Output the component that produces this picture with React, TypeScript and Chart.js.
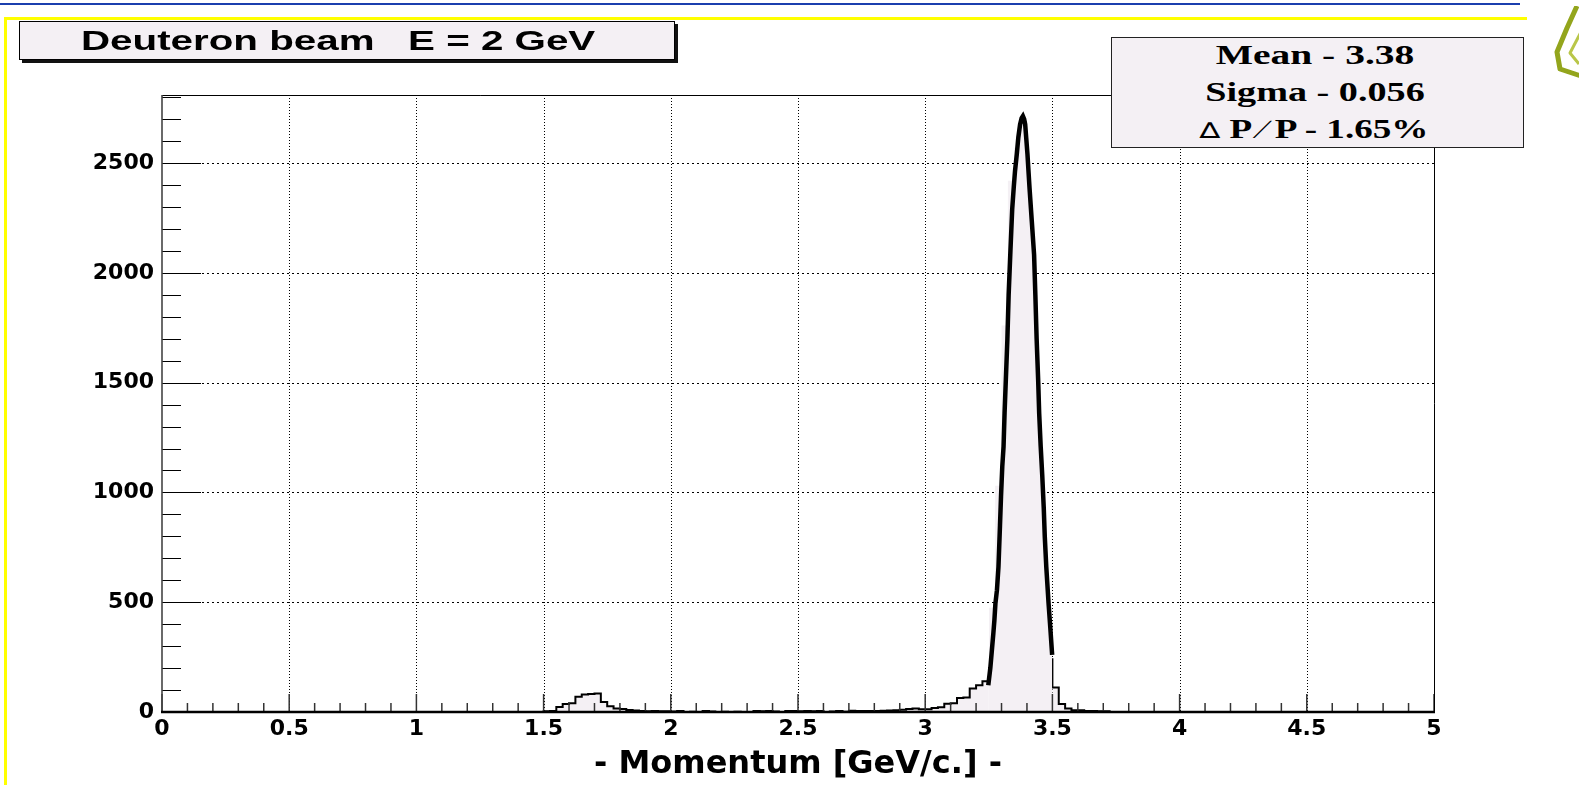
import React, { useEffect, useRef } from "react";
import { Chart, registerables } from "chart.js";

Chart.register(...registerables);

// Momentum histogram (GeV/c): first bin edge, bin width and entries per bin
const histFirstEdge = 1.5;
const histBinWidth = 0.025;
const histCounts = [
  2, 3, 4, 23, 37, 40, 70, 80, 82, 84, // 1.500 - 1.725
  46, 26, 16, 14, 9, 7, 4, 3, 4, 3, // 1.750 - 1.975
  3, 2, 4, 0, 1, 0, 4, 2, 0, 1, // 2.000 - 2.225
  0, 1, 0, 0, 4, 3, 4, 2, 0, 4, // 2.250 - 2.475
  4, 3, 4, 3, 4, 0, 2, 4, 1, 6, // 2.500 - 2.725
  4, 4, 4, 5, 6, 7, 8, 10, 14, 16, // 2.750 - 2.975
  13, 13, 18, 22, 38, 40, 64, 66, 107, 122, // 3.000 - 3.225
  140, 475, 1030, 1760, 2420, 2570, 2140, 1310, 680, 250, // 3.250 - 3.475
  245, 112, 36, 16, 8, 8, 4, 4, 3, 3, // 3.500 - 3.725
];

// Peak outline traced over the main peak (drawn thick, replaces the bin outline there)
const peakMomentum = [
  3.248, 3.256, 3.262, 3.268, 3.272, 3.276, 3.282, 3.288, 3.294, 3.298,
  3.303, 3.308, 3.312, 3.317, 3.323, 3.328, 3.335, 3.342, 3.348, 3.353,
  3.36, 3.366, 3.373, 3.379, 3.384, 3.389, 3.393, 3.397, 3.402, 3.406,
  3.41, 3.419, 3.428, 3.433, 3.438, 3.444, 3.448, 3.454, 3.46, 3.466,
  3.47, 3.476, 3.485, 3.492, 3.499,
];
const peakCounts = [
  122, 200, 280, 360, 418, 494, 555, 661, 850, 981,
  1118, 1209, 1361, 1514, 1696, 1900, 2100, 2290, 2388, 2463,
  2540, 2616, 2676, 2705, 2714, 2700, 2676, 2616, 2540, 2463,
  2388, 2235, 2083, 1900, 1700, 1514, 1361, 1209, 1080, 930,
  800, 660, 494, 380, 260,
];
const peakRange = [3.25, 3.5];

// Axes
const xRange = [0, 5];
const yRange = [0, 2810];
const xTickValues = [0, 0.5, 1, 1.5, 2, 2.5, 3, 3.5, 4, 4.5, 5];
const xTickLabels = ["0", "0.5", "1", "1.5", "2", "2.5", "3", "3.5", "4", "4.5", "5"];
const yTickValues = [0, 500, 1000, 1500, 2000, 2500];
const yTickLabels = ["0", "500", "1000", "1500", "2000", "2500"];
const xMinorStep = 0.1;
const yMinorStep = 100;

const titleText = "Deuteron beam   E = 2 GeV";
const axisTitle = "- Momentum [GeV/c.] -";
const statMean = "Mean - 3.38";
const statSigma = "Sigma - 0.056";
const statResolution = "1.65%";

const FILL = "rgb(244,240,244)";
const SERIF = '"Liberation Serif", "Times New Roman", serif';
const SANS = '"Liberation Sans", Arial, sans-serif';
const DEJAVU = '"DejaVu Sans", sans-serif';

const PLOT = { left: 162, top: 95, right: 1434, bottom: 712 };
const W = 1579;
const H = 785;

// ROOT-style frame: dotted grid under the histogram, ticks and frame over it
const frameAndGrid = {
  id: "frameAndGrid",
  beforeDatasetsDraw(chart: any) {
    const { ctx, chartArea: a, scales } = chart;
    const xs = scales.x;
    const ys = scales.y;
    ctx.save();
    ctx.strokeStyle = "#000";
    ctx.lineWidth = 1;
    ctx.setLineDash([1, 2]);
    xTickValues.slice(1, -1).forEach((v) => {
      const px = Math.round(xs.getPixelForValue(v)) + 0.5;
      ctx.beginPath();
      ctx.moveTo(px, a.top);
      ctx.lineTo(px, a.bottom);
      ctx.stroke();
    });
    ctx.setLineDash([2, 3]);
    yTickValues.slice(1).forEach((v) => {
      const py = Math.round(ys.getPixelForValue(v)) + 0.5;
      ctx.beginPath();
      ctx.moveTo(a.left, py);
      ctx.lineTo(a.right, py);
      ctx.stroke();
    });
    ctx.restore();
  },
  afterDatasetsDraw(chart: any) {
    const { ctx, chartArea: a, scales } = chart;
    const xs = scales.x;
    const ys = scales.y;
    ctx.save();
    ctx.setLineDash([]);
    // x ticks
    ctx.strokeStyle = "#333";
    ctx.lineWidth = 1.5;
    const nx = Math.round((xRange[1] - xRange[0]) / xMinorStep);
    for (let i = 0; i <= nx; i++) {
      const v = xRange[0] + i * xMinorStep;
      const major = i % 5 === 0;
      const px = xs.getPixelForValue(v);
      ctx.beginPath();
      ctx.moveTo(px, a.bottom);
      ctx.lineTo(px, a.bottom - (major ? 18 : 9));
      ctx.stroke();
    }
    // y ticks
    ctx.strokeStyle = "#000";
    ctx.lineWidth = 1;
    const ny = Math.floor((yRange[1] - yRange[0]) / yMinorStep);
    for (let i = 0; i <= ny; i++) {
      const v = yRange[0] + i * yMinorStep;
      const major = i % 5 === 0;
      const py = Math.round(ys.getPixelForValue(v)) + 0.5;
      ctx.beginPath();
      ctx.moveTo(a.left, py);
      ctx.lineTo(a.left + (major ? 39 : 19), py);
      ctx.stroke();
    }
    // frame
    ctx.strokeStyle = "#000";
    ctx.lineWidth = 1;
    ctx.beginPath();
    ctx.moveTo(a.left, a.top + 0.5);
    ctx.lineTo(a.right + 0.5, a.top + 0.5);
    ctx.lineTo(a.right + 0.5, a.bottom);
    ctx.stroke();
    ctx.strokeStyle = "#444";
    ctx.lineWidth = 1.6;
    ctx.beginPath();
    ctx.moveTo(a.left, a.top);
    ctx.lineTo(a.left, a.bottom);
    ctx.stroke();
    ctx.strokeStyle = "#000";
    ctx.lineWidth = 2.5;
    ctx.beginPath();
    ctx.moveTo(a.left - 1, a.bottom);
    ctx.lineTo(a.right + 1, a.bottom);
    ctx.stroke();
    ctx.restore();
  },
};

function TextLine(props: {
  x: number;
  baseline: number;
  size: number;
  family: string;
  scaleX: number;
  center?: boolean;
  children: React.ReactNode;
}) {
  const { x, baseline, size, family, scaleX, center, children } = props;
  return (
    <div
      style={{
        position: "absolute",
        left: x,
        top: baseline - 0.84 * size,
        fontFamily: family,
        fontWeight: "bold",
        fontSize: size,
        lineHeight: `${size}px`,
        whiteSpace: "pre",
        color: "#000",
        transform: center ? `translateX(-50%) scaleX(${scaleX})` : `scaleX(${scaleX})`,
        transformOrigin: center ? "50% 50%" : "0 50%",
      }}
    >
      {children}
    </div>
  );
}

export default function App() {
  const canvasRef = useRef<HTMLCanvasElement>(null);

  useEffect(() => {
    const canvas = canvasRef.current;
    if (!canvas) return;
    const histPoints = histCounts.map((c, i) => ({
      x: Number((histFirstEdge + i * histBinWidth).toFixed(4)),
      y: c,
    }));
    histPoints.push({
      x: Number((histFirstEdge + histCounts.length * histBinWidth).toFixed(4)),
      y: 0,
    });
    const peakPoints = peakMomentum.map((m, i) => ({ x: m, y: peakCounts[i] }));

    const tickFont = { family: "DejaVu Sans", weight: "bold" as const, size: 22 };

    const chart = new Chart(canvas, {
      type: "line",
      data: {
        datasets: [
          {
            data: peakPoints,
            borderColor: "#000",
            borderWidth: 4.5,
            pointRadius: 0,
            backgroundColor: FILL,
            fill: "origin",
            tension: 0,
          },
          {
            data: histPoints,
            stepped: "after",
            borderColor: "#000",
            borderWidth: 2,
            backgroundColor: FILL,
            fill: "origin",
            pointRadius: 0,
            segment: {
              borderColor: (c: any) =>
                c.p0.parsed.x >= peakRange[0] - 1e-6 && c.p0.parsed.x < peakRange[1] - 1e-6
                  ? "rgba(0,0,0,0)"
                  : "#000",
            },
          },
        ],
      },
      options: {
        responsive: false,
        animation: false,
        events: [],
        layout: {
          padding: { left: 0, top: PLOT.top, right: W - PLOT.right, bottom: 0 },
        },
        plugins: { legend: { display: false }, tooltip: { enabled: false } },
        scales: {
          x: {
            type: "linear",
            min: xRange[0],
            max: xRange[1],
            grid: { display: false, drawTicks: false },
            border: { display: false },
            afterBuildTicks: (s: any) => {
              s.ticks = xTickValues.map((v) => ({ value: v }));
            },
            ticks: {
              autoSkip: false,
              maxRotation: 0,
              padding: 4,
              color: "#000",
              font: tickFont,
              callback: (_v: any, i: number) => xTickLabels[i],
            },
            title: {
              display: true,
              text: axisTitle,
              color: "#000",
              font: { family: "DejaVu Sans", weight: "bold", size: 32 },
              padding: { top: 0, bottom: 1 },
            },
            afterFit: (s: any) => {
              s.height = H - PLOT.bottom;
            },
          },
          y: {
            type: "linear",
            min: yRange[0],
            max: yRange[1],
            grid: { display: false, drawTicks: false },
            border: { display: false },
            afterBuildTicks: (s: any) => {
              s.ticks = yTickValues.map((v) => ({ value: v }));
            },
            ticks: {
              padding: 8,
              color: "#000",
              font: tickFont,
              callback: (_v: any, i: number) => yTickLabels[i],
            },
            afterFit: (s: any) => {
              s.width = PLOT.left;
            },
          },
        },
      },
      plugins: [frameAndGrid],
    } as any);

    return () => chart.destroy();
  }, []);

  return (
    <div
      style={{
        position: "fixed",
        left: 0,
        top: 0,
        width: W,
        height: H,
        background: "#fff",
        overflow: "hidden",
      }}
    >
      <canvas
        ref={canvasRef}
        width={W}
        height={H}
        style={{ position: "absolute", left: 0, top: 0, width: W, height: H }}
      />

      {/* slide rules */}
      <div style={{ position: "absolute", left: 0, top: 3, width: 1520, height: 2, background: "#1b3fae" }} />
      <div style={{ position: "absolute", left: 4, top: 17, width: 1523, height: 3, background: "#ffff00" }} />
      <div style={{ position: "absolute", left: 4, top: 17, width: 3, height: H - 17, background: "#ffff00" }} />

      {/* logo corner */}
      <svg width={40} height={90} style={{ position: "absolute", left: 1545, top: 6 }}>
        <polyline
          points="32,0 22,22 12,46 15,63 36,70"
          fill="none"
          stroke="#93a51c"
          strokeWidth={5}
          strokeLinejoin="round"
        />
        <polyline
          points="36,26 25,47 34,58"
          fill="none"
          stroke="#b9c648"
          strokeWidth={3}
          strokeLinejoin="round"
        />
      </svg>

      {/* title pave */}
      <div
        style={{
          position: "absolute",
          left: 19,
          top: 21,
          width: 654,
          height: 37,
          background: FILL,
          border: "1px solid #000",
          boxShadow: "3px 3px 0 0 #111",
        }}
      />
      <TextLine x={81} baseline={50.5} size={28} family={SANS} scaleX={1.44}>
        {titleText}
      </TextLine>

      {/* statistics pave */}
      <div
        style={{
          position: "absolute",
          left: 1111,
          top: 37,
          width: 411,
          height: 109,
          background: FILL,
          border: "1px solid #222",
        }}
      />
      <TextLine x={1315} baseline={64} size={26.5} family={SERIF} scaleX={1.49} center>
        {statMean}
      </TextLine>
      <TextLine x={1315} baseline={101} size={26.5} family={SERIF} scaleX={1.44} center>
        {statSigma}
      </TextLine>
      <TextLine x={1314} baseline={138} size={26.5} family={SERIF} scaleX={1.4} center>
        <span style={{ fontWeight: "normal", fontFamily: DEJAVU, fontSize: 22 }}>∆</span>
        {" P "}
        <span style={{ fontWeight: "normal" }}>∕</span>
        {" P - " + statResolution}
      </TextLine>
    </div>
  );
}
